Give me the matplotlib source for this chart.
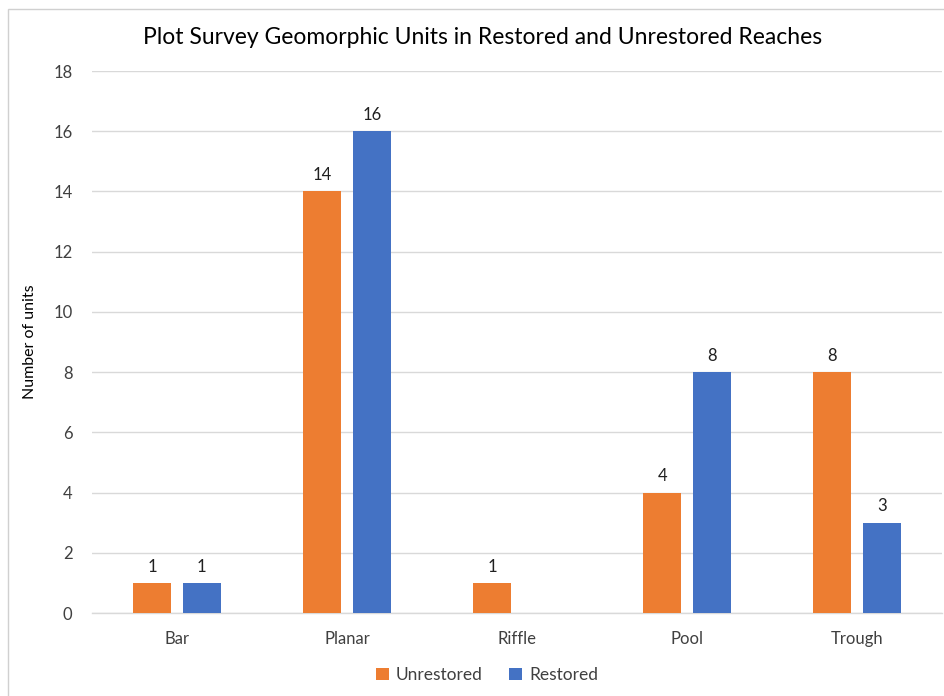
import matplotlib.pyplot as plt
import numpy as np
from matplotlib.patches import Rectangle

# Data
categories = ['Bar', 'Planar', 'Riffle', 'Pool', 'Trough']
unrestored = [1, 14, 1, 4, 8]
restored = [1, 16, 0, 8, 3]

plt.rcParams['font.family'] = ['Lato', 'DejaVu Sans']
text_color = '#404040'
grid_color = '#D9D9D9'

fig = plt.figure(figsize=(9.45, 6.96), dpi=100)
ax = fig.add_axes([92 / 945, 1 - 613 / 696, 850 / 945, 542 / 696])

x = np.arange(len(categories))
width = 0.224
offset = 0.146

bars_u = ax.bar(x - offset, unrestored, width, color='#ED7D31', label='Unrestored', zorder=3)
bars_r = ax.bar(x + offset, restored, width, color='#4472C4', label='Restored', zorder=3)

# Data labels (empty Riffle bar gets none)
for bars, vals in [(bars_u, unrestored), (bars_r, restored)]:
    for b, v in zip(bars, vals):
        if v == 0:
            continue
        ax.annotate(str(v), (b.get_x() + b.get_width() / 2, v),
                    xytext=(0, 6), textcoords='offset points',
                    ha='center', va='bottom', fontsize=12, color='#202020')

ax.set_xlim(-0.5, len(categories) - 0.5)
ax.set_ylim(0, 18)
ax.set_yticks(range(0, 19, 2))
ax.set_xticks(x)
ax.set_xticklabels(categories)
ax.tick_params(axis='both', length=0, labelsize=12, labelcolor=text_color)
ax.tick_params(axis='x', pad=13)
ax.tick_params(axis='y', pad=14)

ax.yaxis.grid(True, color=grid_color, linewidth=1, zorder=0)
for side in ['top', 'right', 'left']:
    ax.spines[side].set_visible(False)
ax.spines['bottom'].set_color(grid_color)
ax.spines['bottom'].set_linewidth(1)

ax.set_ylabel('Number of units', fontsize=11.5, color='black', labelpad=12)

fig.text(483 / 945, 1 - 38 / 696, 'Plot Survey Geomorphic Units in Restored and Unrestored Reaches',
         ha='center', va='center', fontsize=16.5, color='black')

fig.legend(loc='center', bbox_to_anchor=(487 / 945, 1 - 675 / 696), ncol=2,
           frameon=False, fontsize=12.5, handlelength=0.75, handleheight=0.75,
           handletextpad=0.4, columnspacing=1.5, labelcolor=text_color)

# light frame around the chart, like the Excel chart area
fig.patches.append(Rectangle((8 / 945, -0.01), 1.0, 1 - 9 / 696 + 0.01,
                             transform=fig.transFigure, fill=False,
                             edgecolor='#D0D0D0', linewidth=1))

fig.savefig('out.png', dpi=100)
